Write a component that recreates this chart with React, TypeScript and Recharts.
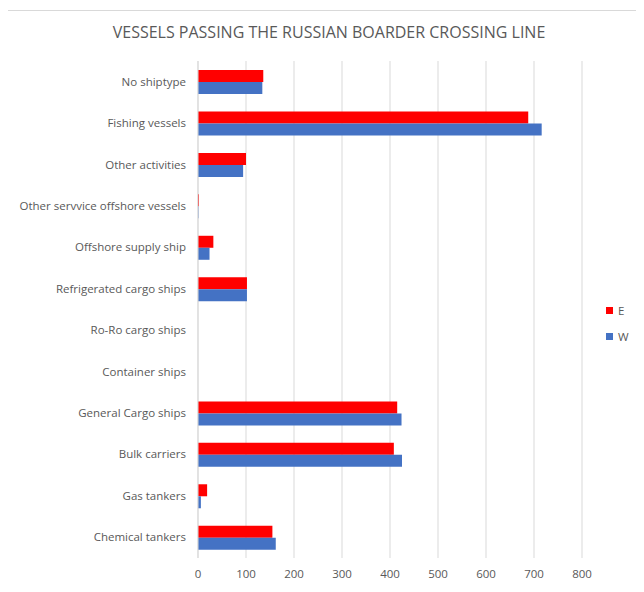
import React from 'react';
import { BarChart, Bar, XAxis, YAxis, CartesianGrid } from 'recharts';

const categories = [
  'No shiptype',
  'Fishing vessels',
  'Other activities',
  'Other servvice offshore vessels',
  'Offshore supply ship',
  'Refrigerated cargo ships',
  'Ro-Ro cargo ships',
  'Container ships',
  'General Cargo ships',
  'Bulk carriers',
  'Gas tankers',
  'Chemical tankers',
];

const eastValues = [136, 688, 100, 2, 32, 102, 0, 0, 415, 408, 19, 155];
const westValues = [134, 716, 94, 1, 24, 102, 0, 0, 424, 425, 6, 162];

const xTicks = [0, 100, 200, 300, 400, 500, 600, 700, 800];

const seriesNames = ['E', 'W'];
const seriesColors = ['#FF0000', '#4472C4'];

const data = categories.map((name, i) => ({ name, E: eastValues[i], W: westValues[i] }));

const FONT = '"Open Sans", sans-serif';
const TEXT = '#595959';

// plain text tick so long names don't wrap
const CategoryTick = (props: any) => {
  const { x, y, payload } = props;
  return (
    <text x={x - 4} y={y} dy="0.35em" textAnchor="end" fill={TEXT} fontSize={11.5} fontFamily={FONT}>
      {payload.value}
    </text>
  );
};

const App: React.FC = () => {
  return (
    <div style={{ position: 'relative', width: 644, height: 592, margin: '-8px 0 0 -8px', background: '#fff', fontFamily: FONT }}>
      <div style={{ position: 'absolute', left: 6, top: 10, right: 0, bottom: 0, borderLeft: '1px solid #d9d9d9', borderTop: '1px solid #d9d9d9' }} />
      <div style={{ position: 'absolute', left: 0, width: 658, top: 21, textAlign: 'center', fontSize: 16, color: TEXT }}>
        VESSELS PASSING THE RUSSIAN BOARDER CROSSING LINE
      </div>
      <div style={{ position: 'absolute', top: 0, left: 0 }}>
        <BarChart
          width={644}
          height={592}
          data={data}
          layout="vertical"
          margin={{ top: 61, right: 62, bottom: 4, left: 0 }}
          barCategoryGap="22%"
          barGap={0}
        >
          <CartesianGrid horizontal={false} stroke="#d9d9d9" />
          <XAxis
            type="number"
            domain={[0, 800]}
            ticks={xTicks}
            axisLine={false}
            tickLine={false}
            tickMargin={6}
            height={30}
            tick={{ fill: TEXT, fontSize: 11.5, fontFamily: FONT }}
          />
          <YAxis
            type="category"
            dataKey="name"
            width={198}
            axisLine={{ stroke: '#d9d9d9' }}
            tickLine={false}
            interval={0}
            tick={<CategoryTick />}
          />
          {seriesNames.map((s, i) => (
            <Bar key={s} dataKey={s} fill={seriesColors[i]} isAnimationActive={false} />
          ))}
        </BarChart>
      </div>
      {seriesNames.map((s, i) => (
        <div key={s} style={{ position: 'absolute', left: 606, top: 303 + i * 26, display: 'flex', alignItems: 'center', fontSize: 11.5, color: TEXT }}>
          <span style={{ display: 'inline-block', width: 7, height: 7, background: seriesColors[i], marginRight: 5 }} />
          {s}
        </div>
      ))}
    </div>
  );
};

export default App;
